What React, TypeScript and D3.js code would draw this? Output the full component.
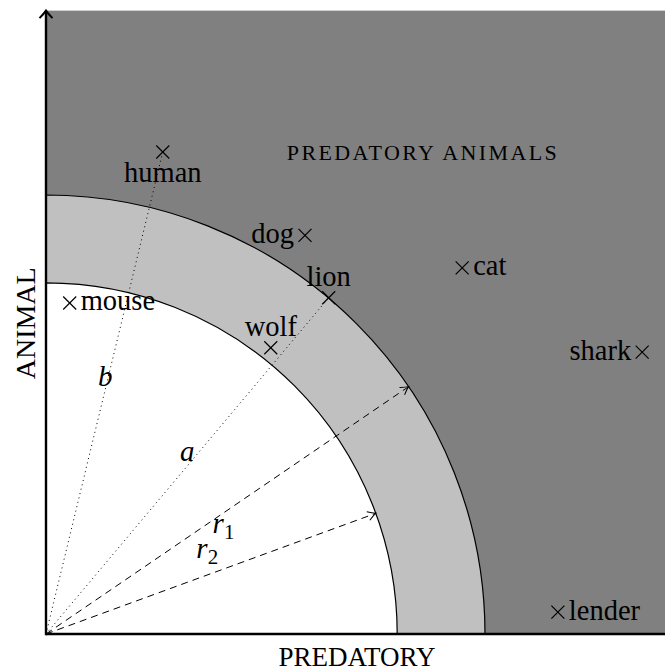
import React from "react";
import * as d3 from "d3";

const W = 665;
const H = 671;

// chart units: circle radii and the extent of the grey plane
const EXTENT = 7.1;
const INNER_R = 4;
const OUTER_R = 5;

// labelled points (predatory, animal)
const names = ["human", "mouse", "dog", "lion", "wolf", "cat", "shark", "lender"];
const predatory = [1.33, 0.27, 2.95, 3.22, 2.56, 4.74, 6.79, 5.83];
const animal = [5.49, 3.77, 4.54, 3.83, 3.26, 4.17, 3.21, 0.25];
const sides = ["below", "right", "left", "above", "above", "right", "left", "right"];

// dotted rays to points, with their letter
const dottedTo = ["human", "lion"];
const dottedLabel = ["b", "a"];
const dottedT = [0.533, 0.542];

// dashed radius arrows
const dashAngle = [34.3, 20.1];
const dashRadius = [OUTER_R, INNER_R];
const dashSub = ["1", "2"];

const FONT = "'Liberation Serif', 'Times New Roman', serif";

const App: React.FC = () => {
  const x = d3.scaleLinear().domain([0, EXTENT]).range([46, 46 + EXTENT * 87.8]);
  const y = d3.scaleLinear().domain([0, EXTENT]).range([634, 634 - EXTENT * 87.8]);
  const px = (v: number) => x(v) - x(0);

  // d3.arc: angle 0 points up, pi/2 points right -> upper-right quadrant
  const arcOuter = d3.arc()({
    innerRadius: 0,
    outerRadius: px(OUTER_R),
    startAngle: 0,
    endAngle: Math.PI / 2,
  }) as string;
  const arcInner = d3.arc()({
    innerRadius: 0,
    outerRadius: px(INNER_R),
    startAngle: 0,
    endAngle: Math.PI / 2,
  }) as string;

  const pts = names.map((n, i) => ({ name: n, x: x(predatory[i]), y: y(animal[i]), side: sides[i] }));
  const byName = (n: string) => pts.find((p) => p.name === n)!;

  const cross = (cx: number, cy: number, k: number) => {
    const s = 6.5;
    return (
      <g key={"c" + k} stroke="#000" strokeWidth={1.2}>
        <line x1={cx - s} y1={cy - s} x2={cx + s} y2={cy + s} />
        <line x1={cx - s} y1={cy + s} x2={cx + s} y2={cy - s} />
      </g>
    );
  };

  const label = (p: { name: string; x: number; y: number; side: string }, k: number) => {
    let tx = p.x, ty = p.y, anchor = "middle";
    if (p.side === "below") { ty = p.y + 30; }
    if (p.side === "above") { ty = p.y - 12; }
    if (p.side === "right") { tx = p.x + 11; ty = p.y + 7.5; anchor = "start"; }
    if (p.side === "left") { tx = p.x - 11; ty = p.y + 7.5; anchor = "end"; }
    return (
      <text key={"t" + k} x={tx} y={ty} textAnchor={anchor} fontSize={28.5} fontFamily={FONT} fill="#000">
        {p.name}
      </text>
    );
  };

  const ox = x(0), oy = y(0);

  return (
    <svg width={W} height={H} style={{ position: "absolute", left: 0, top: 0, background: "#fff" }}>
      <defs>
        <marker id="tip" viewBox="-10 -6 12 12" markerWidth={12} markerHeight={12} refX={0} refY={0}
          orient="auto" markerUnits="userSpaceOnUse">
          <path d="M-8,-4.5 Q-3,-1 0,0 Q-3,1 -8,4.5" fill="none" stroke="#000" strokeWidth={1} />
        </marker>
      </defs>

      {/* grey plane */}
      <rect x={x(0)} y={y(EXTENT)} width={x(EXTENT) - x(0)} height={y(0) - y(EXTENT)} fill="#808080" />

      {/* annulus and inner disk */}
      <g transform={`translate(${ox},${oy})`}>
        <path d={arcOuter} fill="#c0c0c0" stroke="#000" strokeWidth={1.2} />
        <path d={arcInner} fill="#fff" stroke="#000" strokeWidth={1.2} />
      </g>

      {/* dotted rays */}
      {dottedTo.map((n, i) => {
        const p = byName(n);
        const lx = ox + (p.x - ox) * dottedT[i];
        const ly = oy + (p.y - oy) * dottedT[i];
        return (
          <g key={"d" + i}>
            <line x1={ox} y1={oy} x2={p.x} y2={p.y} stroke="#000" strokeWidth={1} strokeDasharray="1 3.5" />
            <text x={lx - (i === 0 ? 3 : 12)} y={ly + 9} textAnchor="middle" fontSize={29}
              fontStyle="italic" fontFamily={FONT}>
              {dottedLabel[i]}
            </text>
          </g>
        );
      })}

      {/* dashed radius arrows */}
      {dashAngle.map((a, i) => {
        const rad = (a * Math.PI) / 180;
        const ex = x(dashRadius[i] * Math.cos(rad));
        const ey = y(dashRadius[i] * Math.sin(rad));
        const lx = ox + (ex - ox) * 0.495;
        const ly = oy + (ey - oy) * 0.495 + (i === 0 ? 16 : -21);
        return (
          <g key={"r" + i}>
            <line x1={ox} y1={oy} x2={ex} y2={ey} stroke="#000" strokeWidth={1} strokeDasharray="7 5"
              markerEnd="url(#tip)" />
            <text x={lx - 2} y={ly + 5} textAnchor="middle" fontSize={29} fontStyle="italic" fontFamily={FONT}>
              r
              <tspan fontStyle="normal" fontSize={21} dy={6}>{dashSub[i]}</tspan>
            </text>
          </g>
        );
      })}

      {/* points */}
      {pts.map((p, i) => cross(p.x, p.y, i))}
      {pts.map((p, i) => label(p, i))}

      {/* region caption */}
      <text x={x(4.28)} y={y(5.4)} fontSize={22} fontFamily={FONT} textAnchor="middle"
        textLength={270} lengthAdjust="spacing">
        PREDATORY ANIMALS
      </text>

      {/* axes */}
      <line x1={ox} y1={oy} x2={x(EXTENT)} y2={oy} stroke="#000" strokeWidth={2.4} />
      <line x1={ox} y1={oy + 1.2} x2={ox} y2={y(EXTENT) + 0.5} stroke="#000" strokeWidth={2.4} />
      <path d={`M${ox - 6.5},${y(EXTENT) + 7.5} Q${ox - 2},${y(EXTENT) + 3} ${ox},${y(EXTENT)} Q${ox + 2},${y(EXTENT) + 3} ${ox + 6.5},${y(EXTENT) + 7.5}`}
        fill="none" stroke="#000" strokeWidth={2} />

      <text x={357} y={666} textAnchor="middle" fontSize={27} fontFamily={FONT}>PREDATORY</text>
      <text transform={`translate(35,${(y(0) + y(EXTENT)) / 2 + 1}) rotate(-90)`} textAnchor="middle"
        fontSize={28} fontFamily={FONT}>
        ANIMAL
      </text>
    </svg>
  );
};

export default App;
